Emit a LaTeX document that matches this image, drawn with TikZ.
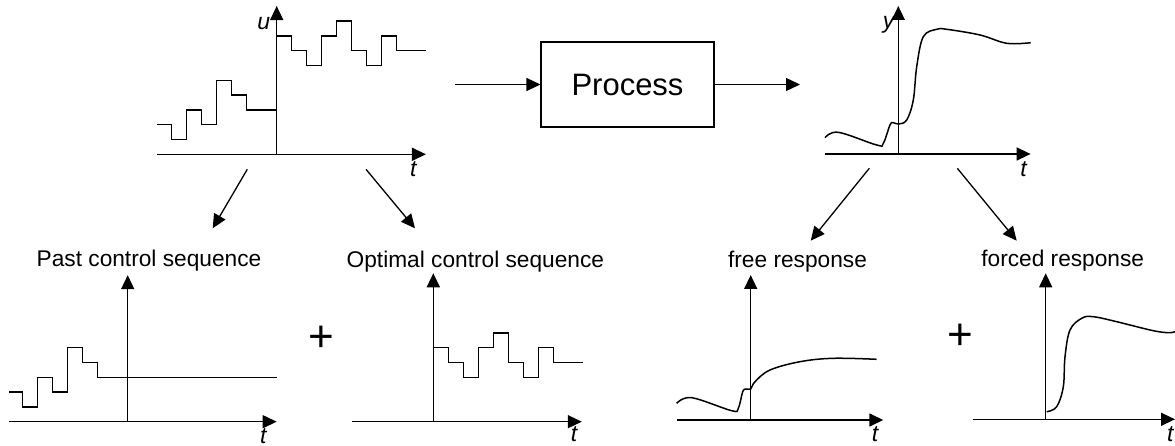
\documentclass[tikz,border=0pt]{standalone}
\usepackage{fontspec}
\setmainfont{Liberation Sans}
\usetikzlibrary{arrows.meta, positioning}
\tikzset{
>={Triangle[length=14pt,width=13pt]}, % big solid heads as in the sketch
axis/.style={->, line width=1.5pt},
link/.style={->, line width=1.3pt},
signal/.style={line width=1.5pt, line join=miter},
caption/.style={font=\fontsize{22.7}{26}\selectfont, anchor=base},
axlabel/.style={font=\fontsize{23}{26}\selectfont\itshape, inner sep=0pt, anchor=base},
plus/.style={font=\fontsize{44}{46}\selectfont},
}

\begin{document}
\begin{tikzpicture}[x=1pt,y=-1pt]
\useasboundingbox (0,0) rectangle (1175,446);

% the process block
\node[draw, line width=1.1pt, minimum width=173pt, minimum height=85pt,
  font=\fontsize{31}{36}\selectfont] (proc) at (627.5,84.5) {Process};
\coordinate (u-in) at (455,84.5);
\coordinate (y-out) at (800,84.5);
\draw[link] (u-in) -- (proc);
\draw[link] (proc) -- (y-out);

% input u: past + future moves
\begin{scope}[xshift=276.7pt, yshift=-154.3pt, x=15pt, y=14.8pt]
  \draw[axis] (-7.96,0) -- (9.95,0);
  \draw[axis] (0,0) -- (0,10.02);
  \draw[signal] (-7.96,2) -- (-7,2) -- (-7,1) -- (-6,1) -- (-6,3) -- (-5,3)
    -- (-5,2) -- (-4,2) -- (-4,5) -- (-3,5) -- (-3,4) -- (-2,4) -- (-2,3) -- (0,3);
  \draw[signal] (0,3) -- (0,8) -- (1,8) -- (1,7) -- (2,7) -- (2,6) -- (3,6)
    -- (3,8) -- (4,8) -- (4,9) -- (5,9) -- (5,7) -- (6,7) -- (6,6) -- (7,6)
    -- (7,8) -- (8,8) -- (8,7) -- (9.95,7);
  \node[axlabel] (u-lab) at (-0.87,8.45) {u};
  \node[axlabel] (t-u) at (9.11,-1.53) {t};
\end{scope}

% output y
\begin{scope}[xshift=898.3pt, yshift=-154pt, x=1pt, y=1pt]
  \draw[axis] (-73.3,0) -- (132.3,0);
  \draw[axis] (0,0) -- (0,148);
  \draw[signal] plot[smooth, tension=0.6] coordinates {(-73.3,16.3) (-60,21.7)
    (-21.6,9) (-15,10.7) (-8.3,29) (-5,31.3) (0,30) (8.4,34) (15,54) (18.4,87.3)
    (25,117.3) (38.4,124.7) (48.4,124.7) (81.7,119) (108.4,110.7) (132.4,111.3)};
  \node[axlabel] (y-lab) at (-9.6,125) {y};
  \node[axlabel] (t-y) at (125.2,-22.7) {t};
\end{scope}

% split arrows
\coordinate (u-past) at (247.3,169.3);
\coordinate (past-top) at (212.7,228.3);
\coordinate (u-opt) at (366,169.3);
\coordinate (opt-top) at (415,228.3);
\coordinate (y-free) at (869.3,168.3);
\coordinate (free-top) at (810.7,240.7);
\coordinate (y-forced) at (957.3,168.3);
\coordinate (forced-top) at (1016.7,240.7);
\draw[link] (u-past) -- (past-top);
\draw[link] (u-opt) -- (opt-top);
\draw[link] (y-free) -- (free-top);
\draw[link] (y-forced) -- (forced-top);

% captions
\node[caption] (past-cap) at (149,267) {Past control sequence};
\node[caption] (opt-cap) at (475.4,268) {Optimal control sequence};
\node[caption] (free-cap) at (797.5,268) {free response};
\node[caption] (forced-cap) at (1062.7,267) {forced response};
\node[plus] (plus-u) at (321.7,339) {+};
\node[plus] (plus-y) at (960,336.7) {+};

% past control sequence
\begin{scope}[xshift=127.7pt, yshift=-421.7pt, x=15pt, y=14.8pt]
  \draw[axis] (-7.9,0) -- (9.93,0);
  \draw[axis] (0,0) -- (0,9.9);
  \draw[signal] (-7.9,2) -- (-7,2) -- (-7,1) -- (-6,1) -- (-6,3) -- (-5,3)
    -- (-5,2) -- (-4,2) -- (-4,5) -- (-3,5) -- (-3,4) -- (-2,4) -- (-2,3) -- (9.93,3);
  \node[axlabel] (t-past) at (9.04,-1.46) {t};
\end{scope}

% optimal control sequence
\begin{scope}[xshift=433.3pt, yshift=-421.7pt, x=15pt, y=14.8pt]
  \draw[axis] (-5.44,0) -- (9.9,0);
  \draw[axis] (0,0) -- (0,10.03);
  \draw[signal] (0,5) -- (1,5) -- (1,4) -- (2,4) -- (2,3) -- (3,3)
    -- (3,5) -- (4,5) -- (4,6) -- (5,6) -- (5,4) -- (6,4) -- (6,3) -- (7,3)
    -- (7,5) -- (8,5) -- (8,4) -- (9.96,4);
  \node[axlabel] (t-opt) at (9.38,-1.35) {t};
\end{scope}

% free response
\begin{scope}[xshift=750.7pt, yshift=-420pt, x=1pt, y=1pt]
  \draw[axis] (-74,0) -- (132.6,0);
  \draw[axis] (0,0) -- (0,145);
  \draw[signal] plot[smooth, tension=0.6] coordinates {(-74,16.7) (-59,22.3)
    (-19,9.3) (-12.4,11.7) (-8,28.3) (-4.7,31) (0,31) (4.3,38.3) (19.3,50)
    (49.3,58.3) (82.6,61.7) (126,60.7)};
  \node[axlabel] (t-free) at (124.3,-21.7) {t};
\end{scope}

% forced response
\begin{scope}[xshift=1045.7pt, yshift=-419.3pt, x=1pt, y=1pt]
  \draw[axis] (-73,0) -- (129.3,0);
  \draw[axis] (0,0) -- (0,146);
  \draw[signal] plot[smooth, tension=0.6] coordinates {(1,7.6) (11,12.6)
    (17.6,32.6) (19.3,62.6) (24.3,89.3) (36,101) (47.6,102.6) (71,97.6)
    (107.6,88.6) (124.3,86.6) (131,88.6)};
  \node[axlabel] (t-forced) at (124.6,-22.4) {t};
\end{scope}
\end{tikzpicture}
\end{document}
